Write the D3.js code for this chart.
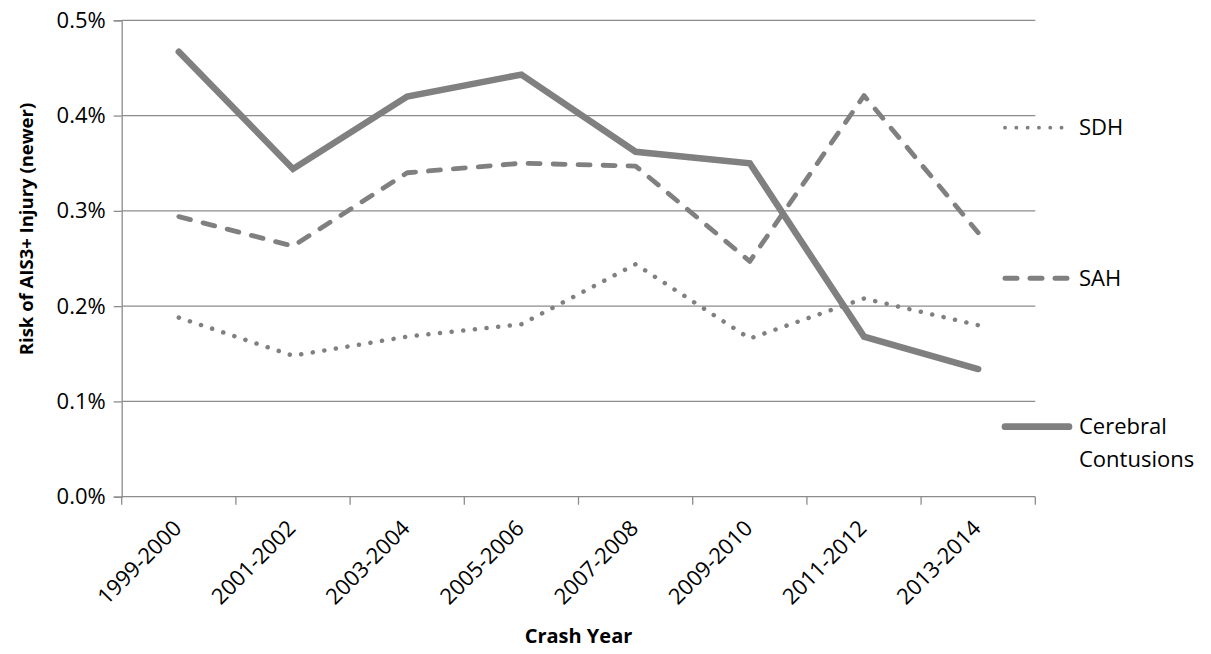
<!DOCTYPE html>
<html><head><meta charset="utf-8">
<script src="https://cdn.jsdelivr.net/npm/d3@7"></script>
<style>
html,body{margin:0;padding:0;background:#fff;}
text{font-family:"Open Sans",sans-serif;}
</style></head>
<body>
<svg id="c" width="1211" height="654"></svg>
<script>
const categories = ["1999-2000","2001-2002","2003-2004","2005-2006","2007-2008","2009-2010","2011-2012","2013-2014"];
const sdh      = [0.00188,0.00148,0.00168,0.00181,0.00244,0.00166,0.00208,0.00180];
const sah      = [0.00294,0.00263,0.00340,0.00350,0.00347,0.00247,0.00421,0.00277];
const cerebral = [0.00467,0.00344,0.00420,0.00443,0.00362,0.00350,0.00168,0.00134];
const yTicks   = [0,0.001,0.002,0.003,0.004,0.005];
const seriesNames = ["SDH","SAH","Cerebral Contusions"];

(function(){
const svg = d3.select("#c");
const pLeft = 121.7, pRight = 1035.3, pTop = 20.3, pBottom = 496.7;
const x = d3.scaleBand().domain(categories).range([pLeft,pRight]).padding(0);
const y = d3.scaleLinear().domain([0,0.005]).range([pBottom,pTop]);
const cx = c => x(c) + x.bandwidth()/2;
const grey = "#808080", axisGrey = "#8c8c8c";

// gridlines
svg.append("g").selectAll("line").data(yTicks.filter(d=>d>0)).join("line")
  .attr("x1",pLeft).attr("x2",pRight).attr("y1",d=>y(d)).attr("y2",d=>y(d))
  .attr("stroke",axisGrey).attr("stroke-width",1.3);

// y axis
const yAxis = d3.axisLeft(y).tickValues(yTicks).tickFormat(d3.format(".1%")).tickSize(8).tickPadding(8);
const gy = svg.append("g").attr("transform",`translate(${pLeft},0)`).call(yAxis);
gy.select(".domain").attr("stroke",axisGrey).attr("stroke-width",1.3);
gy.selectAll(".tick line").attr("stroke",axisGrey).attr("stroke-width",1.3);
gy.selectAll(".tick text").attr("font-size",22).attr("fill","#000").attr("font-family","Open Sans");

// x axis
const gx = svg.append("g").attr("transform",`translate(0,${pBottom})`);
gx.append("line").attr("x1",pLeft).attr("x2",pRight).attr("y1",0).attr("y2",0).attr("stroke",axisGrey).attr("stroke-width",1.3);
const bounds = categories.map(c=>x(c)).concat([pRight]);
gx.selectAll("line.t").data(bounds).join("line").attr("class","t")
  .attr("x1",d=>d).attr("x2",d=>d).attr("y1",0).attr("y2",8).attr("stroke",axisGrey).attr("stroke-width",1.3);
gx.selectAll("text").data(categories).join("text")
  .attr("transform",d=>`translate(${cx(d)+4},${33}) rotate(-45)`)
  .attr("text-anchor","end").attr("font-size",22).attr("fill","#000").text(d=>d);

// lines
const line = d3.line().x((d,i)=>cx(categories[i])).y(d=>y(d));
svg.append("path").datum(sdh).attr("d",line).attr("fill","none").attr("stroke",grey)
  .attr("stroke-width",4.5).attr("stroke-linecap","round").attr("stroke-linejoin","round").attr("stroke-dasharray","0.1,11.6");
svg.append("path").datum(sah).attr("d",line).attr("fill","none").attr("stroke",grey)
  .attr("stroke-width",4.8).attr("stroke-linecap","round").attr("stroke-linejoin","round").attr("stroke-dasharray","12,13");
svg.append("path").datum(cerebral).attr("d",line).attr("fill","none").attr("stroke",grey)
  .attr("stroke-width",6.5).attr("stroke-linecap","round").attr("stroke-linejoin","miter");

// legend
const lg = svg.append("g");
const legendY = [127.7, 278.3, 426.7];
const legendStyles = [
  {w:3.8, dash:"0.1,11.2"},
  {w:5, dash:"12,13"},
  {w:6.7, dash:null}
];
seriesNames.forEach((n,i)=>{
  const l = lg.append("line").attr("x1",1005).attr("x2",1069).attr("y1",legendY[i]).attr("y2",legendY[i])
    .attr("stroke",grey).attr("stroke-width",legendStyles[i].w).attr("stroke-linecap","round");
  if (legendStyles[i].dash) l.attr("stroke-dasharray",legendStyles[i].dash);
});
lg.append("text").attr("x",1079).attr("y",legendY[0]).attr("dy","0.35em").attr("font-size",22).attr("fill","#000").text("SDH");
lg.append("text").attr("x",1079).attr("y",legendY[1]).attr("dy","0.35em").attr("font-size",22).attr("fill","#000").text("SAH");
const ct = lg.append("text").attr("x",1079).attr("y",legendY[2]).attr("dy","0.35em").attr("font-size",22).attr("fill","#000");
ct.append("tspan").attr("x",1079).text("Cerebral");
ct.append("tspan").attr("x",1079).attr("dy","1.5em").text("Contusions");

// axis titles
svg.append("text").attr("transform",`translate(27,229) rotate(-90)`).attr("dy","0.35em")
  .attr("text-anchor","middle").attr("font-weight","bold").attr("font-size",18.5).attr("fill","#000")
  .text("Risk of AIS3+ Injury (newer)");
svg.append("text").attr("x",(pLeft+pRight)/2).attr("y",636).attr("dy","0.35em")
  .attr("text-anchor","middle").attr("font-weight","bold").attr("font-size",20).attr("fill","#000")
  .text("Crash Year");
})();
</script>
</body></html>
